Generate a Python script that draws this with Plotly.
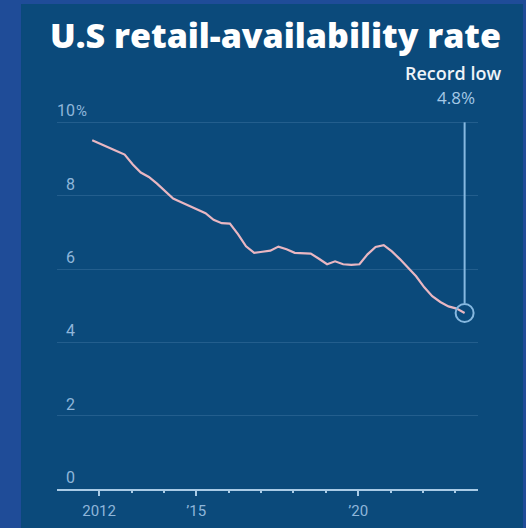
import plotly.graph_objects as go

# Quarterly U.S. retail availability rate, %
QUARTERS = [
    "2011-10-15", "2012-01-15", "2012-04-15", "2012-07-15", "2012-10-15",
    "2013-01-15", "2013-04-15", "2013-07-15", "2013-10-15",
    "2014-01-15", "2014-04-15", "2014-07-15", "2014-10-15",
    "2015-01-15", "2015-04-15", "2015-07-15", "2015-10-15",
    "2016-01-15", "2016-04-15", "2016-07-15", "2016-10-15",
    "2017-01-15", "2017-04-15", "2017-07-15", "2017-10-15",
    "2018-01-15", "2018-04-15", "2018-07-15", "2018-10-15",
    "2019-01-15", "2019-04-15", "2019-07-15", "2019-10-15",
    "2020-01-15", "2020-04-15", "2020-07-15", "2020-10-15",
    "2021-01-15", "2021-04-15", "2021-07-15", "2021-10-15",
    "2022-01-15", "2022-04-15", "2022-07-15", "2022-10-15",
    "2023-01-15", "2023-04-15",
]
RATE = [
    9.51, 9.42, 9.32, 9.22, 9.12,
    8.85, 8.63, 8.51, 8.33,
    8.12, 7.92, 7.82, 7.72,
    7.62, 7.52, 7.34, 7.25,
    7.24, 6.95, 6.62, 6.44,
    6.47, 6.50, 6.61, 6.54,
    6.44, 6.42, 6.42, 6.28,
    6.13, 6.21, 6.13, 6.11,
    6.13, 6.40, 6.60, 6.65,
    6.48, 6.27, 6.05, 5.80,
    5.50, 5.26, 5.10, 4.98,
    4.92, 4.80,
]

Y_TICKS = [0, 2, 4, 6, 8, 10]
Y_LABELS = ["0", "2", "4", "6", "8", "10"]
X_MAJOR = ["2012-01-01", "2015-01-01", "2020-01-01"]
X_LABELS = ["2012", "\u201915", "\u201920"]
X_YEARS = [f"{y}-01-01" for y in range(2012, 2024)]

TITLE = "U.S retail-availability rate"
CALLOUT = "Record low"

OUTER = "#1f4c98"
PANEL = "#0b4a7b"
GRID = "rgba(160,200,235,0.16)"
AXIS = "#a9cbe6"
LABEL = "#8fb6da"
LINE = "#e9b7c2"
MARK = "#86b8e0"

last_x, last_y = QUARTERS[-1], RATE[-1]

fig = go.Figure()

fig.add_trace(go.Scatter(
    x=QUARTERS, y=RATE, mode="lines",
    line=dict(color=LINE, width=2.2, shape="linear"),
    hoverinfo="skip", showlegend=False,
))

# Ring around the latest reading
fig.add_trace(go.Scatter(
    x=[last_x], y=[last_y], mode="markers",
    marker=dict(size=18, color="rgba(0,0,0,0)", line=dict(color=MARK, width=2)),
    hoverinfo="skip", showlegend=False,
))

# Dark panel behind the chart
fig.add_shape(type="rect", xref="paper", yref="paper",
              x0=-0.0855, x1=1.1069, y0=-0.11, y1=1.26,
              fillcolor=PANEL, line=dict(width=0), layer="below")

# Leader line from the ring up to the callout
fig.add_shape(type="line", xref="x", yref="y",
              x0=last_x, x1=last_x, y0=last_y + 0.27, y1=10,
              line=dict(color=MARK, width=2))

annotations = []
for v, t in zip(Y_TICKS, Y_LABELS):
    annotations.append(dict(
        x=0.047, xref="paper", y=v, yref="y", text=t,
        xanchor="right", yanchor="bottom", yshift=0, showarrow=False,
        font=dict(family="Roboto", size=16, color=LABEL),
    ))
annotations.append(dict(
    x=0.047, xref="paper", y=Y_TICKS[-1], yref="y", text="%",
    xanchor="left", yanchor="bottom", xshift=-3, showarrow=False,
    font=dict(family="Roboto", size=15, color=LABEL),
))
annotations.append(dict(
    x=last_x, xref="x", y=10, yref="y", text=f"{last_y:.1f}%",
    xanchor="center", yanchor="bottom", xshift=-9, yshift=11, showarrow=False,
    font=dict(family="Open Sans", size=17, color="#a4c8e6"),
))
annotations.append(dict(
    x=last_x, xref="x", y=10, yref="y", text=CALLOUT,
    xanchor="center", yanchor="bottom", xshift=-12, yshift=35, showarrow=False,
    font=dict(family="Open Sans", size=18, color="#eef3f8", weight=600),
))
annotations.append(dict(
    x=0.5, xref="paper", y=1.0, yref="paper", text=TITLE,
    xanchor="center", yanchor="bottom", xshift=8, yshift=44, showarrow=False,
    font=dict(family="Open Sans", size=34, color="#ffffff", weight=800),
))

fig.update_layout(
    width=526, height=528,
    margin=dict(l=57, r=48, t=104, b=39),
    paper_bgcolor=OUTER,
    plot_bgcolor="rgba(0,0,0,0)",
    annotations=annotations,
    xaxis=dict(
        type="date",
        range=["2010-09-13", "2023-09-13"],
        automargin=False,
        showgrid=False, zeroline=False,
        showline=True, linecolor=AXIS, linewidth=2,
        tickvals=X_MAJOR, ticktext=X_LABELS,
        ticks="outside", ticklen=5, tickwidth=2, tickcolor=AXIS,
        ticklabelstandoff=2,
        minor=dict(tickvals=X_YEARS, ticks="outside",
                   ticklen=2, tickwidth=2, tickcolor=AXIS, showgrid=False),
        tickfont=dict(family="Roboto", size=15, color=LABEL),
        fixedrange=True,
    ),
    yaxis=dict(
        range=[0, 10.5],
        automargin=False,
        tickvals=Y_TICKS, showticklabels=False,
        showgrid=True, gridcolor=GRID, gridwidth=1,
        zeroline=False, showline=False, ticks="",
        fixedrange=True,
    ),
)

fig.write_html("out.html")
